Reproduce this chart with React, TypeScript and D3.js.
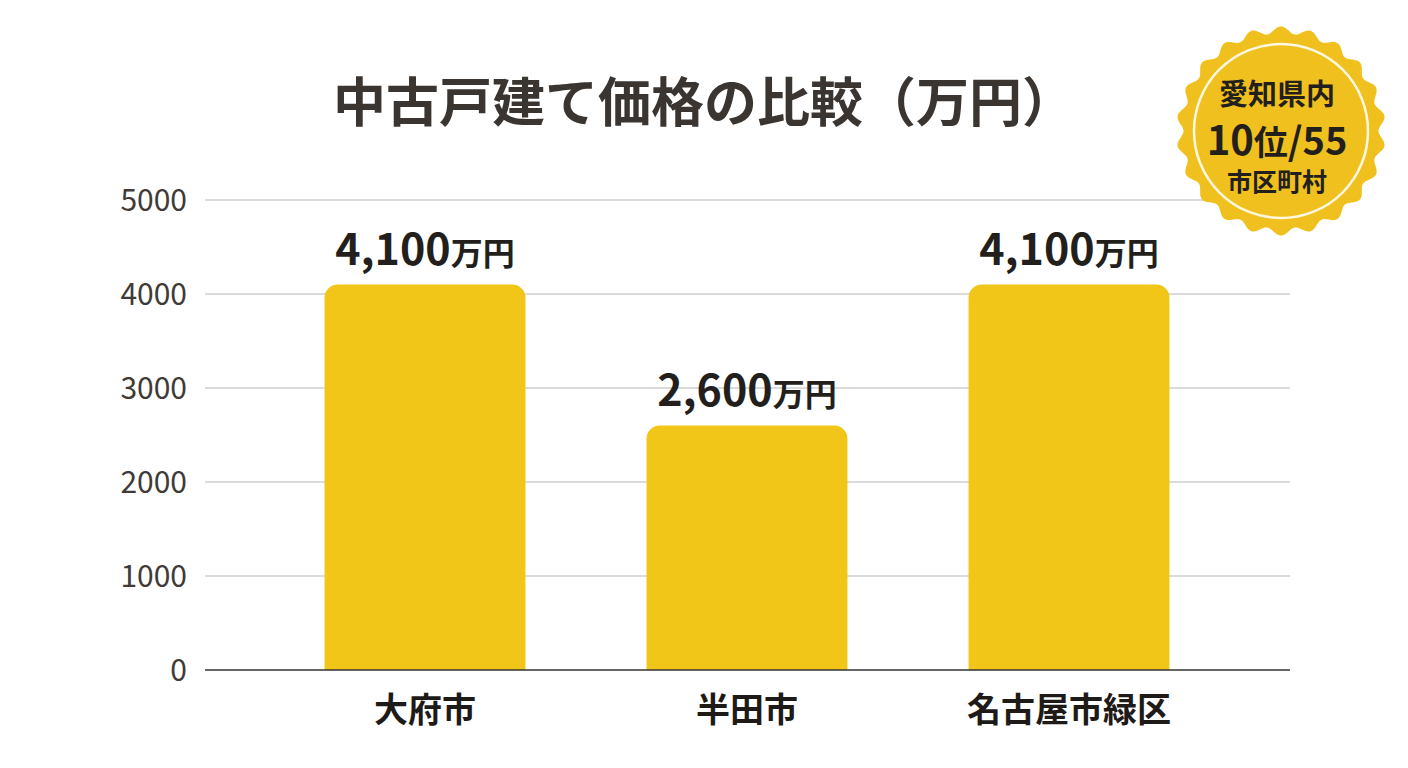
import React from "react";
import * as d3 from "d3";

const categories = ["大府市", "半田市", "名古屋市緑区"];
const values = [4100, 2600, 4100];
const valueNumbers = ["4,100", "2,600", "4,100"];
const valueUnit = "万円";
const yTicks = [0, 1000, 2000, 3000, 4000, 5000];
const title = "中古戸建て価格の比較（万円）";
const badgeTop = "愛知県内";
const badgeRankNum = "10";
const badgeRankUnit = "位";
const badgeRankTotal = "/55";
const badgeBottom = "市区町村";

const W = 1408;
const H = 768;
const FONT = "'Noto Sans CJK JP', 'Noto Sans', sans-serif";

function barPath(x: number, y: number, w: number, h: number, r: number) {
  const p = d3.path();
  p.moveTo(x, y + h);
  p.lineTo(x, y + r);
  p.arcTo(x, y, x + r, y, r);
  p.lineTo(x + w - r, y);
  p.arcTo(x + w, y, x + w, y + r, r);
  p.lineTo(x + w, y + h);
  p.closePath();
  return p.toString();
}

function scallop(R: number, amp: number, n: number) {
  const pts: [number, number][] = d3.range(0, 720).map((i) => {
    const t = (i / 720) * Math.PI * 2;
    return [t, R + amp * Math.cos(n * t)];
  });
  return d3.lineRadial().curve(d3.curveLinearClosed)(pts) as string;
}

export default function App() {
  const x = d3
    .scaleBand<string>()
    .domain(categories)
    .range([264, 1230])
    .paddingInner(0.376)
    .paddingOuter(0.188);
  const y = d3.scaleLinear().domain([0, 5000]).range([670, 200]);
  const gridX0 = 205;
  const gridX1 = 1290;
  const badgePath = scallop(101, 3.5, 22);

  return (
    <svg
      width={W}
      height={H}
      style={{ position: "absolute", left: 0, top: 0, background: "#fff" }}
      fontFamily={FONT}
    >
      <rect width={W} height={H} fill="#ffffff" />
      <text
        x={704}
        y={122}
        textAnchor="middle"
        fontSize={53}
        fontWeight={700}
        fill="#3a3530"
      >
        {title}
      </text>

      {yTicks.map((t) => (
        <g key={t}>
          {t !== 0 && (
            <line
              x1={gridX0}
              x2={gridX1}
              y1={y(t)}
              y2={y(t)}
              stroke="#cfcfcf"
              strokeWidth={1.5}
            />
          )}
          <text
            x={187}
            y={y(t)}
            dy="0.36em"
            textAnchor="end"
            fontSize={30}
            fill="#403b36"
          >
            {t}
          </text>
        </g>
      ))}

      {categories.map((c, i) => {
        const bx = x(c) as number;
        const bw = x.bandwidth();
        const by = y(values[i]);
        return (
          <g key={c}>
            <path d={barPath(bx, by, bw, y(0) - by, 13)} fill="#F2C619" />
            <text
              x={bx + bw / 2}
              y={by - 20}
              textAnchor="middle"
              fontWeight={700}
              fill="#231f1c"
            >
              <tspan fontSize={43}>{valueNumbers[i]}</tspan>
              <tspan fontSize={32}>{valueUnit}</tspan>
            </text>
            <text
              x={bx + bw / 2}
              y={722}
              textAnchor="middle"
              fontSize={34}
              fontWeight={600}
              fill="#1e1a17"
            >
              {c}
            </text>
          </g>
        );
      })}

      <line
        x1={gridX0}
        x2={gridX1}
        y1={y(0)}
        y2={y(0)}
        stroke="#333333"
        strokeWidth={1.5}
      />

      <g transform="translate(1281,131)">
        <path d={badgePath} fill="#F0C01E" />
        <circle r={87} fill="none" stroke="#fff8e0" strokeWidth={2.5} />
        <text
          x={-4}
          y={-26}
          textAnchor="middle"
          fontSize={29}
          fontWeight={700}
          fill="#231f1c"
        >
          {badgeTop}
        </text>
        <text
          x={-4}
          y={24}
          textAnchor="middle"
          fontWeight={700}
          fill="#231f1c"
        >
          <tspan fontSize={40}>{badgeRankNum}</tspan>
          <tspan fontSize={34}>{badgeRankUnit}</tspan>
          <tspan fontSize={38}>{badgeRankTotal}</tspan>
        </text>
        <text
          x={-4}
          y={60}
          textAnchor="middle"
          fontSize={25}
          fontWeight={700}
          fill="#231f1c"
        >
          {badgeBottom}
        </text>
      </g>
    </svg>
  );
}
